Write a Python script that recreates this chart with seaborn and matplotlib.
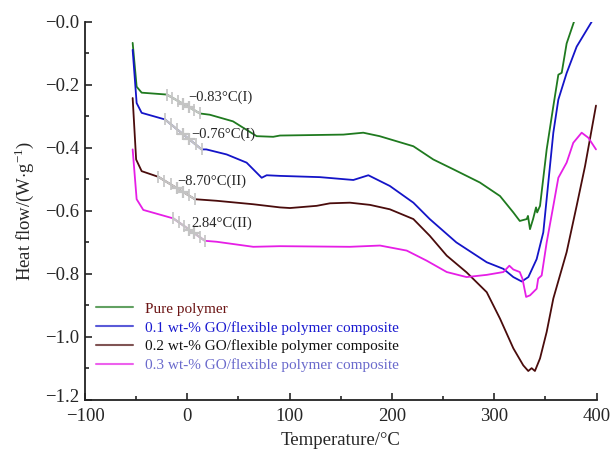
import numpy as np
import pandas as pd
import seaborn as sns
from matplotlib import pyplot as plt
from matplotlib import transforms

# DSC curves
pure_t = [-53.4, -49.5, -44.6, -20.0, 12.4, 22.0, 44.7, 67.8, 84.0, 90.6, 152.6, 172.0,
          188.0, 221.0, 240.5, 260.0, 286.0, 305.7, 318.7, 325.0, 331.8, 333.0, 335.0,
          338.0, 340.9, 342.0, 344.8, 351.3, 357.8, 362.7, 366.0, 370.8, 378.0]
pure_q = [-0.067, -0.206, -0.225, -0.231, -0.291, -0.295, -0.316, -0.363, -0.365, -0.361,
          -0.358, -0.352, -0.363, -0.395, -0.437, -0.468, -0.510, -0.553, -0.605, -0.632,
          -0.626, -0.616, -0.658, -0.626, -0.589, -0.605, -0.584, -0.405, -0.268, -0.168,
          -0.162, -0.069, 0.0]

go01_t = [-53.4, -49.5, -44.6, -21.8, 14.0, 18.6, 38.5, 58.0, 72.7, 77.6, 90.6, 129.7,
          162.3, 177.0, 198.0, 221.0, 237.0, 263.0, 292.7, 309.0, 318.7, 326.9, 333.4,
          341.5, 348.0, 352.9, 357.8, 362.7, 370.8, 380.6, 395.3]
go01_q = [-0.089, -0.258, -0.289, -0.310, -0.405, -0.405, -0.421, -0.447, -0.495, -0.487,
          -0.489, -0.493, -0.502, -0.487, -0.521, -0.574, -0.626, -0.700, -0.763, -0.784,
          -0.810, -0.824, -0.810, -0.753, -0.668, -0.510, -0.352, -0.247, -0.163, -0.079,
          0.0]

go02_t = [-53.4, -50.0, -44.6, -28.3, 7.5, 28.7, 64.5, 90.6, 100.4, 126.5, 139.5, 159.0,
          178.6, 198.0, 221.0, 237.0, 253.6, 273.0, 292.7, 305.7, 318.7, 328.4, 333.3,
          336.6, 339.8, 344.8, 351.3, 357.8, 370.8, 380.6, 388.8, 399.5]
go02_q = [-0.242, -0.437, -0.474, -0.492, -0.563, -0.568, -0.579, -0.589, -0.591, -0.584,
          -0.576, -0.574, -0.581, -0.595, -0.626, -0.679, -0.742, -0.795, -0.858, -0.942,
          -1.036, -1.090, -1.108, -1.099, -1.108, -1.068, -0.984, -0.878, -0.731, -0.584,
          -0.458, -0.266]

go03_t = [-53.4, -49.5, -43.0, -13.6, 17.3, 28.7, 64.5, 90.6, 159.0, 188.4, 214.5, 234.0,
          253.6, 273.0, 292.7, 309.0, 314.8, 318.7, 325.0, 327.6, 331.2, 335.0, 341.5,
          343.0, 346.4, 351.3, 357.8, 362.7, 370.8, 377.3, 385.5, 392.0, 399.5]
go03_q = [-0.405, -0.563, -0.597, -0.624, -0.695, -0.698, -0.714, -0.712, -0.714, -0.710,
          -0.726, -0.758, -0.794, -0.810, -0.803, -0.794, -0.774, -0.786, -0.794, -0.815,
          -0.873, -0.868, -0.847, -0.815, -0.805, -0.700, -0.584, -0.495, -0.447, -0.384,
          -0.352, -0.368, -0.405]

labels = ['Pure polymer',
          '0.1 wt-% GO/flexible polymer composite',
          '0.2 wt-% GO/flexible polymer composite',
          '0.3 wt-% GO/flexible polymer composite']

# glass transition step: start / end temperature and Tg label
tg_start = [-20.0, -21.8, -28.3, -13.6]
tg_end = [12.4, 14.0, 7.5, 17.3]
tg_text = ['\u22120.83\u00b0C(I)', '\u22120.76\u00b0C(I)', '\u22128.70\u00b0C(II)', '2.84\u00b0C(II)']
tg_text_pos = [(0.5, -0.238), (4.0, -0.358), (-9.5, -0.506), (4.0, -0.639)]

x_ticks = [-100, 0, 100, 200, 300, 400]
y_ticks = [-1.2, -1.0, -0.8, -0.6, -0.4, -0.2, 0.0]
y_ticklabels = ['\u22121.2', '\u22121.0', '\u22120.8', '\u22120.6', '\u22120.4', '\u22120.2', '\u22120.0']

line_colors = ['#1f7a1f', '#1414c8', '#4a0c0c', '#e61ee6']
text_colors = ['#6b1414', '#1a1ad0', '#111111', '#6a6acc']

curves = [(pure_t, pure_q), (go01_t, go01_q), (go02_t, go02_q), (go03_t, go03_q)]
df = pd.concat([pd.DataFrame({'T': t, 'Q': q, 'sample': lbl})
                for (t, q), lbl in zip(curves, labels)], ignore_index=True)

sns.set_style('ticks')
plt.rcParams['font.family'] = ['Liberation Serif', 'DejaVu Serif']
plt.rcParams['mathtext.fontset'] = 'custom'
plt.rcParams['mathtext.rm'] = 'Liberation Serif'
plt.rcParams['xtick.direction'] = 'in'
plt.rcParams['ytick.direction'] = 'in'

fig, ax = plt.subplots(figsize=(6.14, 4.53), dpi=100)
fig.subplots_adjust(left=0.1384, right=0.9715, top=0.952, bottom=0.117)

sns.lineplot(data=df, x='T', y='Q', hue='sample', hue_order=labels,
             palette=line_colors, sort=False, estimator=None, lw=1.3, ax=ax)

# grey onset/offset construction on each curve
for (t, q), a, b, txt, pos in zip(curves, tg_start, tg_end, tg_text, tg_text_pos):
    gx = np.linspace(a, b, 7)
    gy = np.interp(gx, t, q)
    ax.plot(gx, gy, color='#c4c4c4', lw=1.6, marker='|', ms=8, mew=1.2, zorder=3)
    ax.plot(gx[3:5], gy[3:5], color='#c4c4c4', lw=0, marker='+', ms=9, mew=1.6, zorder=3)
    ax.text(pos[0], pos[1], txt, fontsize=10.5, va='center', ha='left', zorder=4)

ax.set_xlim(-100, 400)
ax.set_ylim(-1.2, 0.0)
ax.set_xticks(x_ticks)
ax.set_yticks(y_ticks)
ax.set_yticklabels(y_ticklabels)
ax.set_xticks([-50, 50, 150, 250, 350], minor=True)
ax.set_yticks([-1.1, -0.9, -0.7, -0.5, -0.3, -0.1], minor=True)
ax.tick_params(axis='both', which='major', labelsize=13.5, length=5, width=1.2)
ax.tick_params(axis='x', which='major', pad=6)
ax.tick_params(axis='y', which='major', pad=4)
ax.tick_params(axis='both', which='minor', length=3, width=1.2)
# lift the bottom y label a little, as in the original, so it clears "-100"
lbl0 = ax.get_yticklabels()[0]
lbl0.set_transform(lbl0.get_transform() + transforms.ScaledTranslation(0, 3 / 72, fig.dpi_scale_trans))
ax.set_xlabel('Temperature/\u00b0C', fontsize=13.5, labelpad=5)
ax.set_ylabel(r'Heat flow/(W$\cdot$g$^{-1}$)', fontsize=13.5, labelpad=7)
for s in ['left', 'bottom']:
    ax.spines[s].set_linewidth(1.3)
    ax.spines[s].set_color('#222222')
sns.despine(ax=ax)

leg = ax.legend(loc='upper left', bbox_to_anchor=(0.01, 0.275), frameon=False,
                fontsize=11, handlelength=2.4, labelspacing=0.33, handletextpad=0.8,
                borderaxespad=0)
for h in leg.get_lines():
    h.set_alpha(0.7)
    h.set_linewidth(1.5)
for t, c in zip(leg.get_texts(), text_colors):
    t.set_color(c)

fig.savefig('out.png', dpi=100)
